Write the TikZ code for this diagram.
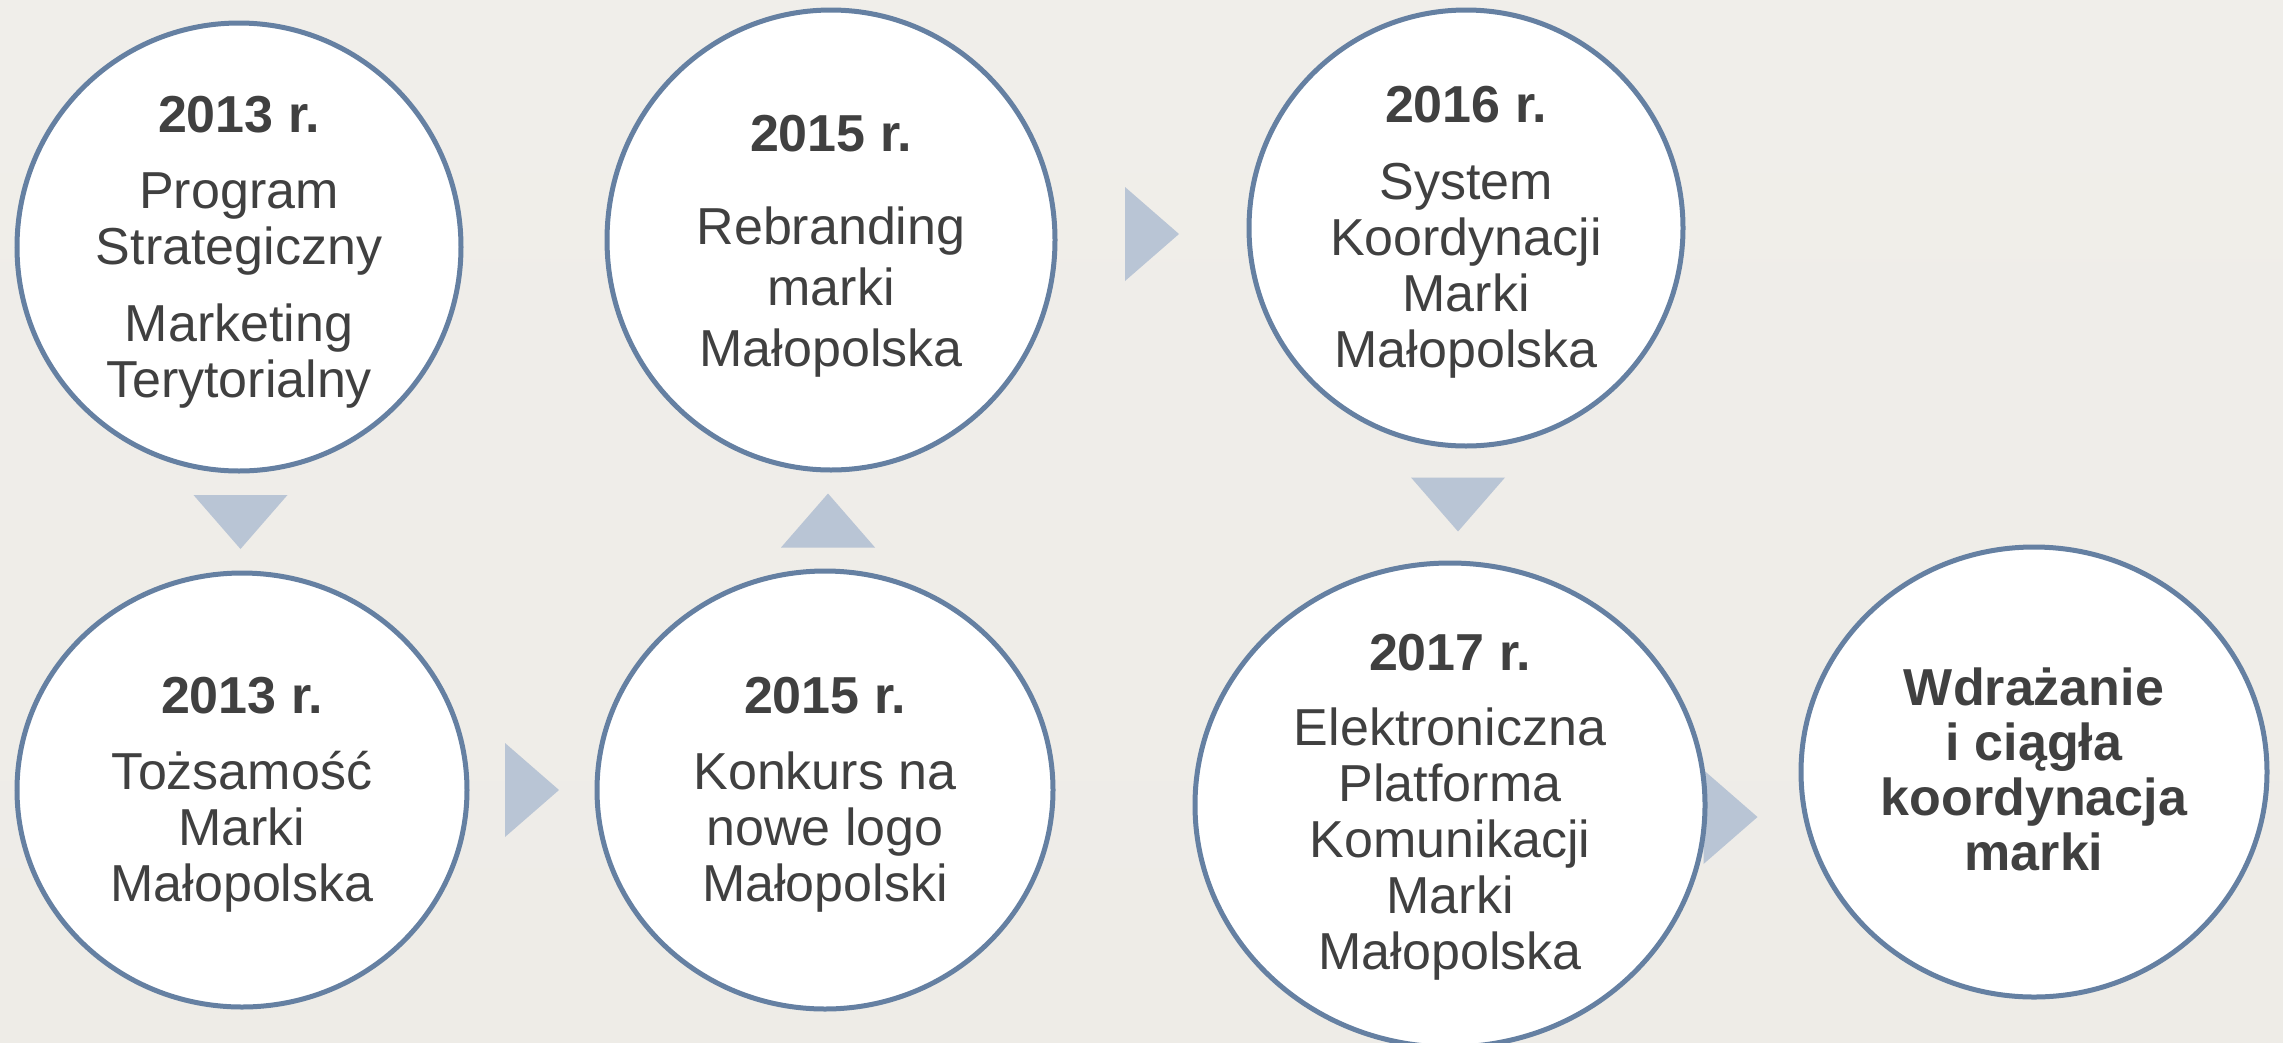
\documentclass[tikz,border=0pt]{standalone}
\usepackage{fontspec}
\setmainfont{Liberation Sans}
\usetikzlibrary{calc,shapes.geometric}
\definecolor{bgtop}{HTML}{F0EEEA}
\definecolor{bgmid}{HTML}{E5E2DD}
\definecolor{bgbot}{HTML}{EEECE7}
\definecolor{ringblue}{HTML}{6580A2}
\definecolor{trifill}{HTML}{B9C5D5}
\definecolor{inkgray}{HTML}{404040}
\pgfdeclarelayer{backdrop}
\pgfsetlayers{backdrop,main}
\begin{document}
\begin{tikzpicture}[x=1pt,y=-1pt,
  stage/.style={ellipse, draw=ringblue, line width=5pt, fill=white, inner sep=0pt},
  caption/.style={font=\fontsize{52}{56}\selectfont, align=center, text=inkgray,
                  inner sep=0pt, anchor=north},
  flowtri/.pic={\fill[trifill] (-27,-47) -- (27,0) -- (-27,47) -- cycle;}
]
\useasboundingbox (0,0) rectangle (2283,1042);

% stages of the brand timeline
\node[stage, minimum width=444pt, minimum height=448pt] (c1) at (239,247) {};
\node[stage, minimum width=450pt, minimum height=434pt] (c2) at (242,790) {};
\node[stage, minimum width=456pt, minimum height=438pt] (c3) at (825,790) {};
\node[stage, minimum width=448pt, minimum height=460pt] (c4) at (831,240) {};
\node[stage, minimum width=434pt, minimum height=436pt] (c5) at (1466,228) {};
\node[stage, minimum width=510pt, minimum height=484pt] (c6) at (1450,805) {};
\node[stage, minimum width=466pt, minimum height=450pt] (c7) at (2034,772) {};

% texts
\node[caption] (t1) at (239,96)
  {\textbf{2013 r.}\\[20pt]Program\\Strategiczny\\[21pt]Marketing\\Terytorialny};
\node[caption] (t2) at (242,677)
  {\textbf{2013 r.}\\[20pt]Tożsamość\\Marki\\Małopolska};
\node[caption] (t3) at (825,677)
  {\textbf{2015 r.}\\[20pt]Konkurs na\\nowe logo\\Małopolski};
\node[caption, font=\fontsize{52}{61}\selectfont] (t4) at (831,115)
  {\textbf{2015 r.}\\[32pt]Rebranding\\marki\\Małopolska};
\node[caption] (t5) at (1466,86)
  {\textbf{2016 r.}\\[21pt]System\\Koordynacji\\Marki\\Małopolska};
\node[caption] (t6) at (1450,634)
  {\textbf{2017 r.}\\[19pt]Elektroniczna\\Platforma\\Komunikacji\\Marki\\Małopolska};
\node[caption, font=\bfseries\fontsize{52}{55}\selectfont] (t7) at (2034,668)
  {Wdrażanie\\i ciągła\\koordynacja\\marki};

% backdrop and flow markers behind the stages
\begin{pgfonlayer}{backdrop}
  \shade[top color=bgtop, middle color=bgmid, bottom color=bgbot]
    (0,0) rectangle (2283,1042);
  \path ($(c1.south)!0.5!(c2.north)$) pic[rotate=-90] {flowtri};
  \path ($(c2.east)!0.5!(c3.west)$) pic {flowtri};
  \path ($(c3.north)!0.5!(c4.south)$) pic[rotate=90] {flowtri};
  \path ($(c4.east)!0.5!(c5.west)$) pic {flowtri};
  \path ($(c5.south)!0.5!(c6.north)$) pic[rotate=-90] {flowtri};
  \path ($(c6.east)+(23,12)$) pic {flowtri};
\end{pgfonlayer}
\end{tikzpicture}
\end{document}
